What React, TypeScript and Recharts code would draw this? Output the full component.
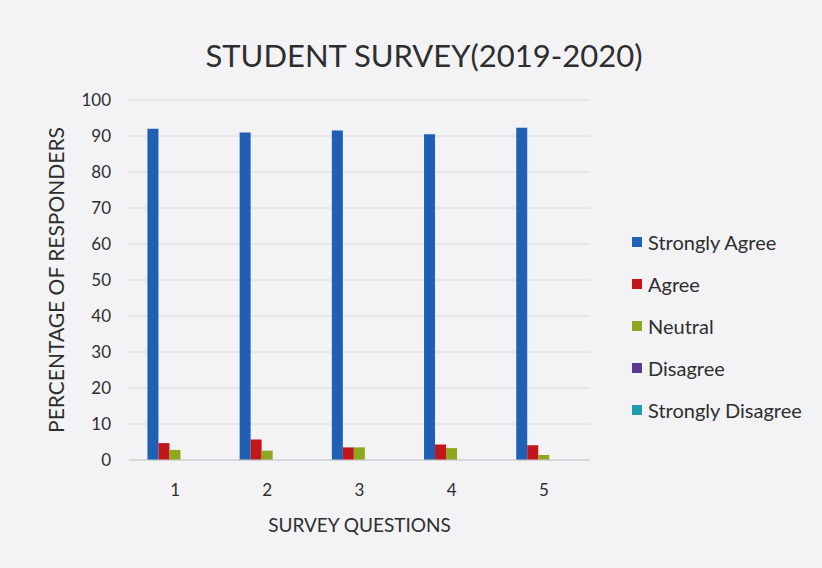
import { BarChart, Bar, XAxis, YAxis, CartesianGrid, Label } from 'recharts';

const questions = ['1', '2', '3', '4', '5'];
const stronglyAgree = [92, 91, 91.5, 90.5, 92.3];
const agree = [4.7, 5.7, 3.5, 4.3, 4.1];
const neutral = [2.8, 2.6, 3.5, 3.3, 1.4];
const disagree = [0, 0, 0, 0, 0];
const stronglyDisagree = [0, 0, 0, 0, 0];
const yTicks = [0, 10, 20, 30, 40, 50, 60, 70, 80, 90, 100];

const series = [
  { key: 'sa', name: 'Strongly Agree', color: '#1f5fb4', values: stronglyAgree },
  { key: 'a', name: 'Agree', color: '#c0161c', values: agree },
  { key: 'n', name: 'Neutral', color: '#8fa61f', values: neutral },
  { key: 'd', name: 'Disagree', color: '#5b3a8e', values: disagree },
  { key: 'sd', name: 'Strongly Disagree', color: '#1d9bb0', values: stronglyDisagree },
];

const data = questions.map((q, i) => {
  const row: Record<string, string | number> = { q };
  series.forEach((s) => (row[s.key] = s.values[i]));
  return row;
});

const FONT = 'Lato, "Open Sans", sans-serif';
const TEXT = '#2e2e30';

function LegendList() {
  return (
    <div
      style={{
        position: 'absolute', left: 632, top: 221, fontFamily: FONT, fontSize: 20, color: TEXT,
      }}
    >
      {series.map((s) => (
        <div key={s.key} style={{ display: 'flex', alignItems: 'center', height: 42 }}>
          <span style={{ width: 10, height: 10, background: s.color, marginRight: 6, display: 'inline-block' }} />
          {s.name}
        </div>
      ))}
    </div>
  );
}

export default function App() {
  return (
    <div style={{ position: 'fixed', top: 0, left: 0, width: 822, height: 568, background: '#f3f3f5' }}>
      <div
        style={{
          position: 'absolute', top: 36, left: 0, width: 848, textAlign: 'center',
          fontFamily: FONT, fontSize: 31, color: TEXT,
        }}
      >
        STUDENT SURVEY(2019-2020)
      </div>
      <BarChart
        width={822}
        height={568}
        data={data}
        margin={{ top: 100, right: 232, left: 69, bottom: 38 }}
        barCategoryGap="20%"
        barGap={0}
      >
        <CartesianGrid stroke="#dcdcdf" vertical={false} />
        <XAxis
          dataKey="q"
          height={70}
          tick={{ fill: TEXT, fontSize: 17, fontFamily: FONT }}
          tickLine={false}
          axisLine={{ stroke: '#c8c8cc' }}
          tickMargin={18}
        >
          <Label
            value="SURVEY QUESTIONS"
            position="insideBottom"
            offset={-2}
            style={{ fill: TEXT, fontSize: 19, fontFamily: FONT }}
          />
        </XAxis>
        <YAxis
          width={60}
          domain={[0, 100]}
          ticks={yTicks}
          tick={{ fill: TEXT, fontSize: 17, fontFamily: FONT }}
          tickLine={false}
          axisLine={false}
          tickMargin={12}
        >
          <Label
            value="PERCENTAGE OF RESPONDERS"
            angle={-90}
            position="left"
            offset={12}
            style={{ fill: TEXT, fontSize: 21, fontFamily: FONT, textAnchor: 'middle' }}
          />
        </YAxis>
        {series.map((s) => (
          <Bar key={s.key} dataKey={s.key} name={s.name} fill={s.color} isAnimationActive={false} />
        ))}
      </BarChart>
      <LegendList />
    </div>
  );
}
